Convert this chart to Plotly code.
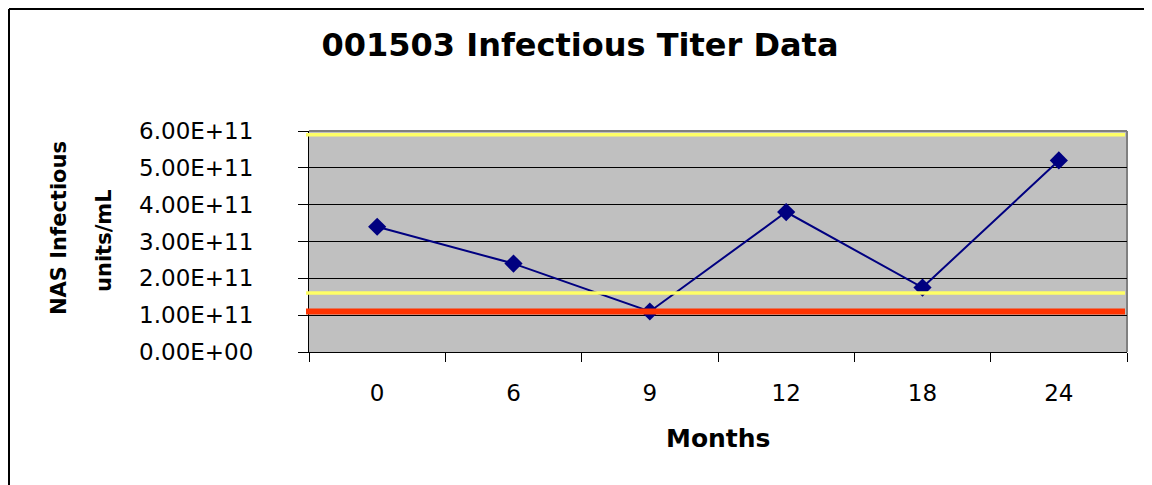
import plotly.graph_objects as go

months = ["0", "6", "9", "12", "18", "24"]
titer = [3.4e11, 2.4e11, 1.1e11, 3.8e11, 1.75e11, 5.2e11]
upper_limit = 5.9e11
lower_warning = 1.6e11
lower_limit = 1.1e11
y_ticks = [0, 1e11, 2e11, 3e11, 4e11, 5e11, 6e11]
y_tick_text = ["0.00E+00", "1.00E+11", "2.00E+11", "3.00E+11", "4.00E+11", "5.00E+11", "6.00E+11"]

OFF = 8  # page body margin
W, H = 1152 - OFF, 485 - OFF
# plot area in page coordinates: x 309..1127, y 131..352
L, T = 309 - OFF, 131 - OFF
R = W - (1127 - OFF)
B = H - (352 - OFF)
pw, ph = W - L - R, H - T - B

def px(x):  # page x -> paper
    return (x - OFF - L) / pw

def py(y):  # page y -> paper
    return (H - B - (y - OFF)) / ph

FONT = "DejaVu Sans, Arial, sans-serif"

fig = go.Figure()
fig.add_trace(go.Scatter(
    x=months, y=titer, mode="lines+markers",
    line=dict(color="#000080", width=2),
    marker=dict(symbol="diamond", size=14, color="#000080"),
    showlegend=False,
))

shapes = []
for val, col, w in [(upper_limit, "#FFFF66", 3.5), (lower_warning, "#FFFF66", 3.5), (lower_limit, "#FF3300", 6)]:
    shapes.append(dict(type="line", xref="paper", yref="y", x0=px(306), x1=px(1125), y0=val, y1=val,
                       line=dict(color=col, width=w), layer="above"))
# plot area border (top/right)
shapes.append(dict(type="line", xref="paper", yref="paper", x0=0, x1=1, y0=1, y1=1,
                   line=dict(color="#808080", width=2), layer="below"))
shapes.append(dict(type="line", xref="paper", yref="paper", x0=1, x1=1, y0=0, y1=1,
                   line=dict(color="#808080", width=2), layer="below"))
# outer chart border (top/left)
shapes.append(dict(type="line", xref="paper", yref="paper", x0=px(OFF + 1), x1=px(1152), y0=py(OFF + 1), y1=py(OFF + 1),
                   line=dict(color="#000000", width=2)))
shapes.append(dict(type="line", xref="paper", yref="paper", x0=px(OFF + 1), x1=px(OFF + 1), y0=py(OFF + 1), y1=py(485),
                   line=dict(color="#000000", width=2)))

annotations = [
    dict(text="<b>NAS Infectious</b>", xref="paper", yref="paper", x=px(59), y=py(228),
         textangle=-90, showarrow=False, font=dict(family=FONT, size=21, color="black"),
         xanchor="center", yanchor="middle"),
    dict(text="<b>units/mL</b>", xref="paper", yref="paper", x=px(104), y=py(241),
         textangle=-90, showarrow=False, font=dict(family=FONT, size=21, color="black"),
         xanchor="center", yanchor="middle"),
    dict(text="<b>Months</b>", xref="paper", yref="paper", x=px(718), y=py(438),
         showarrow=False, font=dict(family=FONT, size=25, color="black"),
         xanchor="center", yanchor="middle"),
]

fig.update_layout(
    width=W, height=H,
    margin=dict(l=L, r=R, t=T, b=B, pad=0),
    paper_bgcolor="white", plot_bgcolor="#C0C0C0",
    title=dict(text="<b>001503 Infectious Titer Data</b>", x=(580 - OFF) / W, xanchor="center",
               y=1 - (45 - OFF) / H, yanchor="middle", font=dict(family=FONT, size=32, color="black")),
    shapes=shapes, annotations=annotations,
    xaxis=dict(type="category", range=[-0.5, 5.5], tickson="boundaries", ticks="outside",
               ticklen=9, tickcolor="black", tickwidth=1, showgrid=False, showline=True,
               linecolor="black", linewidth=1, zeroline=False,
               tickfont=dict(family=FONT, size=23, color="black"), ticklabelstandoff=20),
    yaxis=dict(range=[0, 6e11], tickvals=y_ticks, ticktext=y_tick_text, ticks="outside",
               ticklen=10, tickcolor="black", tickwidth=1, showgrid=True, gridcolor="black",
               gridwidth=1, showline=True, linecolor="black", linewidth=1, zeroline=False,
               tickfont=dict(family=FONT, size=23, color="black"), ticklabelstandoff=40),
)

fig.write_html("out.html")
